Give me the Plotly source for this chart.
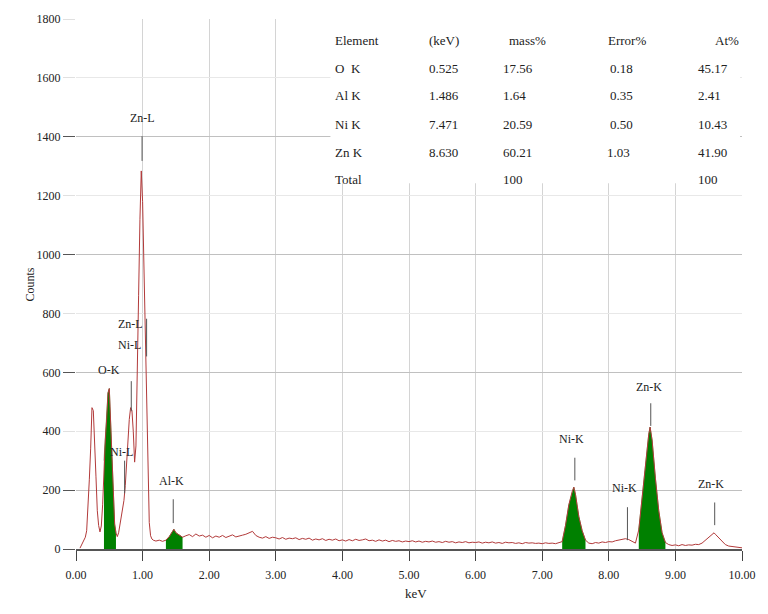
import plotly.graph_objects as go

# ---------------- data ----------------
SPEC_KEV = [0.06,0.08,0.10,0.12,0.14,0.16,0.18,0.20,0.22,0.24,0.26,0.28,0.30,0.32,0.34,0.36,0.38,0.40,
            0.42,0.44,0.46,0.48,0.50,0.52,0.54,0.56,0.58,0.60,0.62,0.64,0.66,0.68,0.70,0.72,0.74,0.76,
            0.78,0.80,0.82,0.84,0.86,0.88,0.90,0.92,0.94,0.96,0.98,1.00,1.02,1.04,1.06,1.08,1.10,1.12,
            1.14,1.16,1.18,1.20,
            1.25,1.30,1.35,1.40,1.45,1.47,1.50,1.55,1.60,1.65,1.70,1.75,1.80,1.85,1.90,1.95,2.00,2.05,
            2.10,2.15,2.20,2.25,2.30,2.35,2.40,2.45,2.50,2.55,2.60,2.65,2.70,2.75,2.80,2.85,2.90,2.95,
            3.00,3.05,3.10,3.15,3.20,3.25,3.30,3.35,3.40,3.45,3.50,3.55,3.60,3.65,3.70,3.75,3.80,3.85,
            3.90,3.95,4.00,4.05,4.10,4.15,4.20,4.25,4.30,4.35,4.40,4.45,4.50,4.55,4.60,4.65,4.70,4.75,
            4.80,4.85,4.90,4.95,5.00,5.05,5.10,5.15,5.20,5.25,5.30,5.35,5.40,5.45,5.50,5.55,5.60,5.65,
            5.70,5.75,5.80,5.85,5.90,5.95,6.00,6.05,6.10,6.15,6.20,6.25,6.30,6.35,6.40,6.45,6.50,6.55,
            6.60,6.65,6.70,6.75,6.80,6.85,6.90,6.95,7.00,7.05,7.10,7.15,7.20,7.25,7.30,7.35,7.40,7.45,
            7.475,7.50,7.55,7.60,7.65,7.70,7.75,7.80,7.85,7.90,7.95,8.00,8.05,8.10,8.15,8.20,8.25,8.30,
            8.35,8.40,8.45,8.50,8.55,8.60,8.62,8.65,8.70,8.75,8.80,8.85,8.90,8.95,9.00,9.05,9.10,9.15,
            9.20,9.25,9.30,9.35,9.40,9.45,9.50,9.55,9.58,9.60,9.65,9.70,9.75,9.80,9.85,9.90,9.95,10.00]

SPEC_COUNTS = [3,12,22,28,40,62,130,235,340,480,470,380,245,130,80,58,78,150,
               300,370,440,530,545,430,320,195,85,55,42,55,80,105,130,165,215,300,
               360,440,480,470,400,295,350,560,860,1120,1284,1180,950,700,480,230,90,45,
               34,30,28,27,
               30,26,30,42,60,67,55,46,40,45,49,42,51,44,47,40,46,38,
               44,40,46,39,43,48,41,45,47,50,56,60,46,40,37,42,36,40,
               38,34,39,33,37,35,38,32,36,33,37,30,34,31,35,29,33,30,
               34,28,31,27,32,28,33,29,31,34,28,30,26,31,27,30,25,29,
               26,28,24,27,25,28,24,27,23,26,24,27,23,25,22,26,23,25,
               21,24,22,25,21,23,22,24,20,23,21,24,20,22,19,23,21,22,
               19,21,18,22,20,21,19,20,18,21,19,20,18,22,25,80,150,195,
               210,185,110,62,30,20,18,22,20,24,22,25,24,28,30,33,35,32,
               25,20,65,175,290,390,414,370,240,130,55,22,15,12,14,11,15,12,
               14,13,16,15,20,30,42,52,55,50,38,25,15,10,8,6,5,4]

# energy windows (keV) of the integrated (green) peaks
PEAK_WINDOWS = [(0.41, 0.61), (1.34, 1.61), (7.29, 7.69), (8.43, 8.87)]

# peak identification labels
PEAK_TEXT = ["Zn-L", "Zn-L", "Ni-L", "O-K", "Ni-L", "Al-K", "Ni-K", "Ni-K", "Zn-K", "Zn-K"]

# quantification table
TABLE_HEAD = ["Element", "(keV)", "mass%", "Error%", "At%"]
TABLE_ELEMENT = ["O  K", "Al K", "Ni K", "Zn K", "Total"]
TABLE_KEV = ["0.525", "1.486", "7.471", "8.630", ""]
TABLE_MASS = ["17.56", "1.64", "20.59", "60.21", "100"]
TABLE_ERR = ["0.18", "0.35", "0.50", "1.03", ""]
TABLE_AT = ["45.17", "2.41", "10.43", "41.90", "100"]

X_TICKS = [0, 1, 2, 3, 4, 5, 6, 7, 8, 9, 10]
X_TICKTEXT = ["0.00", "1.00", "2.00", "3.00", "4.00", "5.00", "6.00", "7.00", "8.00", "9.00", "10.00"]
Y_TICKS = [0, 200, 400, 600, 800, 1000, 1200, 1400, 1600, 1800]

# ---------------- layout positions (not data) ----------------
LABEL_POS = [(0.995, 1463), (0.815, 765), (0.80, 693), (0.49, 609), (0.686, 328),
             (1.43, 230), (7.44, 374), (8.23, 206), (8.60, 549), (9.54, 222)]
MARK_LINES = [(0.992, 1318, 1402), (1.06, 654, 782), (0.83, 468, 570), None, (0.73, 189, 300),
              (1.46, 88, 169), (7.49, 233, 310), (8.28, 30, 142), (8.63, 418, 495), (9.59, 81, 158)]

SERIF = "'Liberation Serif', 'DejaVu Serif', serif"

fig = go.Figure()

# green integrated peak areas
for lo, hi in PEAK_WINDOWS:
    xs = [e for e in SPEC_KEV if lo <= e <= hi]
    ys = [c for e, c in zip(SPEC_KEV, SPEC_COUNTS) if lo <= e <= hi]
    fig.add_trace(go.Scatter(x=xs, y=ys, mode="lines", fill="tozeroy",
                             line=dict(color="#008000", width=0.5), fillcolor="#008000",
                             hoverinfo="skip", showlegend=False))

# spectrum line
fig.add_trace(go.Scatter(x=SPEC_KEV, y=SPEC_COUNTS, mode="lines",
                         line=dict(color="#b23a3a", width=1), showlegend=False))

# peak marker lines (on overlay axis y2)
mx, my = [], []
for seg in MARK_LINES:
    if seg is None:
        continue
    mx += [seg[0], seg[0], None]
    my += [seg[1], seg[2], None]
fig.add_trace(go.Scatter(x=mx, y=my, mode="lines", yaxis="y2",
                         line=dict(color="#555555", width=1), hoverinfo="skip", showlegend=False))

# peak labels
for txt, (ex, cy) in zip(PEAK_TEXT, LABEL_POS):
    fig.add_annotation(x=ex, y=cy, xref="x", yref="y", text=txt, showarrow=False,
                       font=dict(family=SERIF, size=12, color="#222222"))

# table background
fig.add_shape(type="rect", xref="paper", yref="paper", x0=0.382, x1=0.997, y0=0.69, y1=1.0,
              fillcolor="white", line=dict(width=0), layer="above")

def px(xp):
    return (xp - 76) / 673.0

def py(yp):
    return (549 - yp) / 534.0

row_y = [27, 55, 83, 112, 140, 167]
head_x = [(336, "left"), (431, "left"), (512, "left"), (612, "left"), (748, "right")]
for (hx, anc), t in zip(head_x, TABLE_HEAD):
    fig.add_annotation(x=px(hx), y=py(row_y[0]), xref="paper", yref="paper", text=t,
                       showarrow=False, xanchor=anc, font=dict(family=SERIF, size=13, color="#222222"))
cols = [(336, TABLE_ELEMENT), (431, TABLE_KEV), (505, TABLE_MASS), (614, TABLE_ERR), (703, TABLE_AT)]
for cx, vals in cols:
    for i, v in enumerate(vals):
        if v == "":
            continue
        xx = cx
        if vals is TABLE_ERR and v == "1.03":
            xx = 611
        fig.add_annotation(x=px(xx), y=py(row_y[i + 1]), xref="paper", yref="paper", text=v,
                           showarrow=False, xanchor="left",
                           font=dict(family=SERIF, size=13, color="#222222"))

# axis titles
fig.add_annotation(x=px(20), y=py(283), xref="paper", yref="paper", text="Counts", textangle=-90,
                   showarrow=False, font=dict(family=SERIF, size=12, color="#222222"))
fig.add_annotation(x=px(420), y=py(603), xref="paper", yref="paper", text="keV",
                   showarrow=False, font=dict(family=SERIF, size=13, color="#222222"))

fig.update_layout(
    width=768, height=614,
    margin=dict(l=76, r=19, t=15, b=65),
    paper_bgcolor="white", plot_bgcolor="white",
    showlegend=False,
    xaxis=dict(range=[0, 10], tickmode="array", tickvals=X_TICKS, ticktext=X_TICKTEXT,
               showgrid=True, gridcolor="#d4d4d4", gridwidth=1, zeroline=False,
               showline=True, linecolor="#555555", linewidth=2,
               ticks="outside", ticklen=10, tickcolor="#444444", ticklabelstandoff=4,
               tickfont=dict(family=SERIF, size=12, color="#222222")),
    yaxis=dict(range=[0, 1800], tickmode="array", tickvals=Y_TICKS,
               showgrid=True, gridcolor="#e8e8e8", zeroline=False, showline=False,
               ticks="outside", ticklen=12, tickcolor="#e0e0e0",
               tickfont=dict(family=SERIF, size=12, color="#222222")),
    yaxis2=dict(range=[0, 1800], overlaying="y", side="left", tickmode="array",
                tickvals=[0, 200, 600, 1000, 1400], showticklabels=False,
                showgrid=True, gridcolor="#c0c0c0", zeroline=False, showline=False,
                ticks="outside", ticklen=12, tickcolor="#555555"),
)

fig.write_html("out.html")
